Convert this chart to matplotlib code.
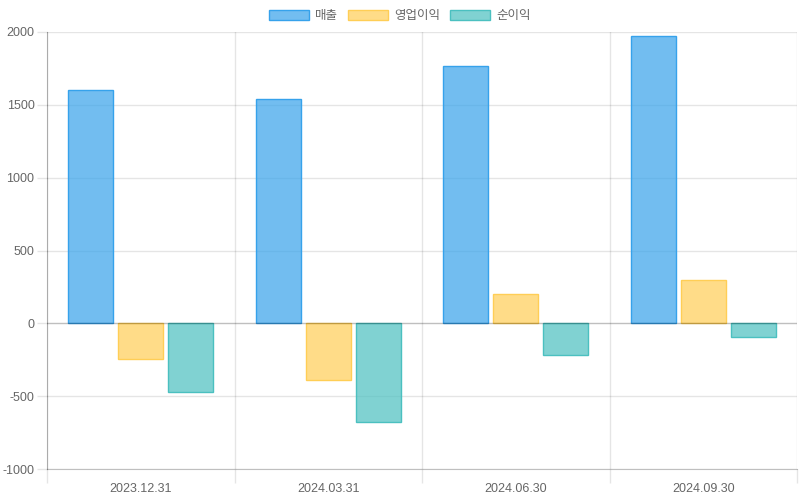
import matplotlib
matplotlib.use("Agg")
import matplotlib.pyplot as plt
import numpy as np
from matplotlib.patches import Patch

plt.rcParams['font.family'] = ['Liberation Sans', 'Noto Sans CJK KR', 'DejaVu Sans']

categories = ['2023.12.31', '2024.03.31', '2024.06.30', '2024.09.30']
series_names = ['매출', '영업이익', '순이익']
sales = [1600, 1537, 1764, 1970]
op_profit = [-247, -391, 199, 295]
net_profit = [-474, -680, -220, -96]
y_ticks = [-1000, -500, 0, 500, 1000, 1500, 2000]

series = [sales, op_profit, net_profit]
fills = [(54/255, 162/255, 235/255, 0.7), (255/255, 206/255, 86/255, 0.7), (75/255, 192/255, 192/255, 0.7)]
edges = [(54/255, 162/255, 235/255, 1.0), (255/255, 206/255, 86/255, 1.0), (75/255, 192/255, 192/255, 1.0)]

W, H = 800, 500
fig = plt.figure(figsize=(8, 5), dpi=100)
L, R, T, B = 47, 797, 32, 469
ax = fig.add_axes([L / W, (H - B) / H, (R - L) / W, (B - T) / H])

x = np.arange(len(categories))
slot = 0.8 / 3
bw = slot * 0.9
for i, (vals, fc, ec) in enumerate(zip(series, fills, edges)):
    ax.bar(x + (i - 1) * slot, vals, width=bw, color=fc, edgecolor=ec, linewidth=1, zorder=3)

ax.set_xlim(-0.5, len(categories) - 0.5)
ax.set_ylim(-1000, 2000)
ax.set_yticks(y_ticks)
ax.set_yticklabels([str(v) for v in y_ticks])

for b in np.arange(-0.5, len(categories), 1.0):
    ax.axvline(b, color=(0, 0, 0, 0.1), linewidth=1, zorder=1)
for v in y_ticks:
    if v == 0:
        ax.axhline(v, color=(0, 0, 0, 0.25), linewidth=1, zorder=4)
    else:
        ax.axhline(v, color=(0, 0, 0, 0.1), linewidth=1, zorder=1)

ax.set_xticks(x)
ax.set_xticklabels(categories)
ax.set_xticks(np.arange(-0.5, len(categories), 1.0), minor=True)
ax.tick_params(axis='x', which='major', length=0, pad=10, labelsize=9, labelcolor='#666666')
ax.tick_params(axis='x', which='minor', length=10, color=(0, 0, 0, 0.1), width=1)
ax.tick_params(axis='y', length=7, color=(0, 0, 0, 0.1), width=1, pad=2, labelsize=9, labelcolor='#666666')

for s in ['top', 'right']:
    ax.spines[s].set_visible(False)
ax.spines['left'].set_color((0, 0, 0, 0.25))
ax.spines['bottom'].set_color((0, 0, 0, 0.25))

handles = [Patch(facecolor=fc, edgecolor=ec, linewidth=1) for fc, ec in zip(fills, edges)]
fig.legend(handles, series_names, loc='center', bbox_to_anchor=(0.5, 1 - 16 / H), ncol=3,
           frameon=False, fontsize=9, labelcolor='#666666', handlelength=3.2, handleheight=0.95,
           handletextpad=0.48, columnspacing=0.8, borderaxespad=0, borderpad=0)

fig.savefig('out.png', dpi=100)
